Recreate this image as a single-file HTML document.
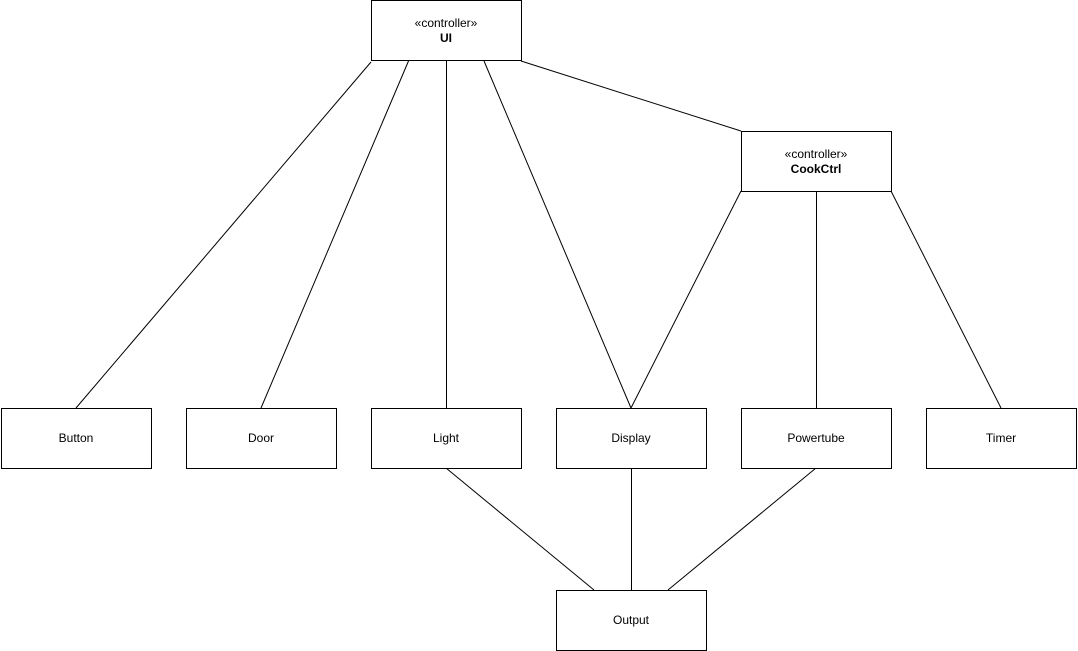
<!DOCTYPE html>
<html><head><meta charset="utf-8"><style>
html,body{margin:0;padding:0;background:#fff;width:1078px;height:651px;overflow:hidden}
svg text{font-family:"Liberation Sans",Arial,sans-serif;font-size:12px;fill:#000}
</style></head><body>
<svg width="1078" height="651" viewBox="0 0 1078 651" xmlns="http://www.w3.org/2000/svg">
<g stroke="#000" stroke-width="1" fill="none">
<line x1="371" y1="62" x2="76" y2="408"/>
<line x1="408.5" y1="61" x2="261" y2="408"/>
<line x1="446.5" y1="61" x2="446.5" y2="408"/>
<line x1="484" y1="61" x2="631" y2="408"/>
<line x1="521" y1="61" x2="741" y2="131"/>
<line x1="741" y1="191" x2="631" y2="408"/>
<line x1="816.5" y1="191" x2="816.5" y2="408"/>
<line x1="891" y1="191" x2="1001" y2="408"/>
<line x1="446" y1="468" x2="594" y2="590"/>
<line x1="631.5" y1="468" x2="631.5" y2="590"/>
<line x1="816" y1="468" x2="668" y2="590"/>
</g>
<g stroke="#000" stroke-width="1" fill="#fff">
<rect x="371.5" y="0.5" width="150" height="60"/>
<rect x="741.5" y="131.5" width="150" height="60"/>
<rect x="1.5" y="408.5" width="150" height="60"/>
<rect x="186.5" y="408.5" width="150" height="60"/>
<rect x="371.5" y="408.5" width="150" height="60"/>
<rect x="556.5" y="408.5" width="150" height="60"/>
<rect x="741.5" y="408.5" width="150" height="60"/>
<rect x="926.5" y="408.5" width="150" height="60"/>
<rect x="556.5" y="590.5" width="150" height="60"/>
</g>
<g text-anchor="middle">
<text x="446" y="27">«controller»</text>
<text x="446" y="42" font-weight="bold">UI</text>
<text x="816" y="158">«controller»</text>
<text x="816" y="173" font-weight="bold">CookCtrl</text>
<text x="76" y="442">Button</text>
<text x="261" y="442">Door</text>
<text x="446" y="442">Light</text>
<text x="631" y="442">Display</text>
<text x="816" y="442">Powertube</text>
<text x="1001" y="442">Timer</text>
<text x="631" y="624">Output</text>
</g>
</svg>
</body></html>
